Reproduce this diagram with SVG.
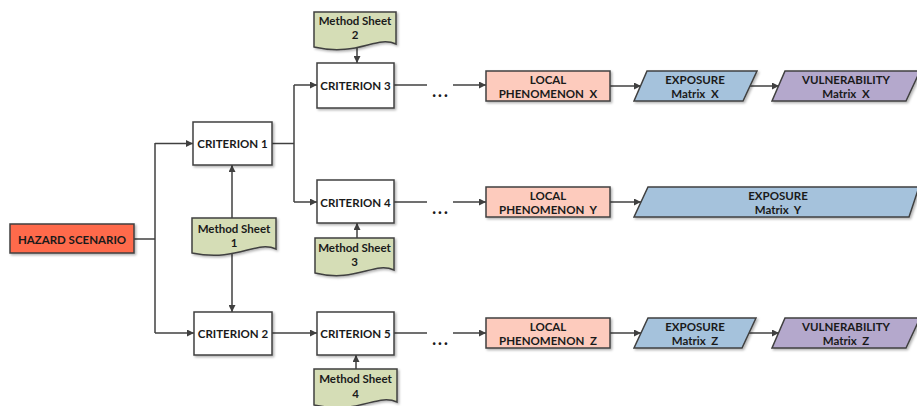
<svg xmlns="http://www.w3.org/2000/svg" width="917" height="406" viewBox="0 0 917 406">
  <defs>
    <filter id="shadow" x="-10%" y="-10%" width="130%" height="140%">
      <feDropShadow dx="1.5" dy="1.5" stdDeviation="1" flood-color="#000" flood-opacity="0.3"/>
    </filter>
    <marker id="arrow" viewBox="0 0 10 10" refX="10" refY="5" markerWidth="7" markerHeight="7" markerUnits="userSpaceOnUse" orient="auto">
      <path d="M0,0 L10,5 L0,10 z" fill="#404040"/>
    </marker>
  </defs>
  <style>
    .box { stroke: #404040; stroke-width: 1.5; filter: url(#shadow); }
    .crit { fill: #ffffff; }
    .hazard { fill: #ff6a4b; }
    .local { fill: #fdcbbd; }
    .expo { fill: #a5c2dc; }
    .vuln { fill: #b4a8cc; }
    .sheet { fill: #d5ddb6; }
    .edge { fill: none; stroke: #404040; stroke-width: 1.5; }
    .arr { marker-end: url(#arrow); }
    text { font-family: Lato, "Liberation Sans", Arial, sans-serif; font-weight: bold; font-size: 11.5px; fill: #1a1a1a; text-anchor: middle; dominant-baseline: central; white-space: pre; }
    .dots { font-size: 16px; font-weight: 900; letter-spacing: 2px; }
  </style>

  <!-- connectors -->
  <g id="connectors">
    <path class="edge" d="M134,239 H155"/>
    <path class="edge" d="M155,143 V333"/>
    <path class="edge arr" d="M155,143.5 H193"/>
    <path class="edge arr" d="M155,333 H194"/>
    <path class="edge arr" d="M232,218 V165"/>
    <path class="edge arr" d="M232,254 V312"/>
    <path class="edge" d="M272,143.5 H294"/>
    <path class="edge" d="M294,85 V202"/>
    <path class="edge arr" d="M294,85 H317"/>
    <path class="edge arr" d="M294,202 H317"/>
    <path class="edge arr" d="M272,333 H317"/>
    <path class="edge arr" d="M357,48 V63"/>
    <path class="edge arr" d="M357,238 V223"/>
    <path class="edge arr" d="M356,369 V355"/>
    <!-- criterion outputs, broken by an ellipsis -->
    <path class="edge" d="M394,85 H427"/>
    <path class="edge arr" d="M453,85 H486"/>
    <path class="edge" d="M394,202 H427"/>
    <path class="edge arr" d="M453,202 H486"/>
    <path class="edge" d="M394,333 H427"/>
    <path class="edge arr" d="M453,333 H486"/>
    <text class="dots" x="441" y="90">...</text>
    <text class="dots" x="441" y="207">...</text>
    <text class="dots" x="441" y="338">...</text>
    <!-- phenomenon to matrices -->
    <path class="edge arr" d="M610,86 H641"/>
    <path class="edge arr" d="M749,86 H779"/>
    <path class="edge arr" d="M610,202 H641"/>
    <path class="edge arr" d="M610,333 H641"/>
    <path class="edge arr" d="M749,333 H779"/>
  </g>

  <g id="hazard-scenario">
    <rect class="box hazard" x="10" y="224" width="124" height="29"/>
    <text x="72" y="239">HAZARD SCENARIO</text>
  </g>

  <g id="criterion-1">
    <rect class="box crit" x="193" y="122" width="79" height="43"/>
    <text x="232.5" y="143.5">CRITERION 1</text>
  </g>
  <g id="criterion-2">
    <rect class="box crit" x="194" y="312" width="78" height="43"/>
    <text x="233" y="333.5">CRITERION 2</text>
  </g>
  <g id="criterion-3">
    <rect class="box crit" x="317" y="63" width="77" height="45"/>
    <text x="355.5" y="85.5">CRITERION 3</text>
  </g>
  <g id="criterion-4">
    <rect class="box crit" x="317" y="180" width="77" height="43"/>
    <text x="355.5" y="202">CRITERION 4</text>
  </g>
  <g id="criterion-5">
    <rect class="box crit" x="317" y="312" width="77" height="43"/>
    <text x="355.5" y="333.5">CRITERION 5</text>
  </g>

  <g id="method-sheet-1">
    <path class="box sheet" d="M192,218 H276 V249 C256,240 238,262 192,253 Z"/>
    <text x="234" y="228">Method Sheet</text>
    <text x="234" y="242">1</text>
  </g>
  <g id="method-sheet-2">
    <path class="box sheet" d="M314,12 H396 V44 C376,35 358,57 314,47 Z"/>
    <text x="355" y="20">Method Sheet</text>
    <text x="355" y="34">2</text>
  </g>
  <g id="method-sheet-3">
    <path class="box sheet" d="M315,238 H394 V270 C374,261 356,283 315,273 Z"/>
    <text x="354.5" y="247">Method Sheet</text>
    <text x="354.5" y="261">3</text>
  </g>
  <g id="method-sheet-4">
    <path class="box sheet" d="M314,369 H397 V402 C377,393 359,415 314,405 Z"/>
    <text x="355.5" y="378">Method Sheet</text>
    <text x="355.5" y="393">4</text>
  </g>

  <g id="local-phenomenon-x">
    <rect class="box local" x="486" y="71" width="124" height="30"/>
    <text x="548" y="79">LOCAL</text>
    <text x="548" y="93">PHENOMENON  X</text>
  </g>
  <g id="local-phenomenon-y">
    <rect class="box local" x="486" y="187" width="124" height="30"/>
    <text x="548" y="195">LOCAL</text>
    <text x="548" y="209">PHENOMENON  Y</text>
  </g>
  <g id="local-phenomenon-z">
    <rect class="box local" x="486" y="318" width="124" height="30"/>
    <text x="548" y="326">LOCAL</text>
    <text x="548" y="340">PHENOMENON  Z</text>
  </g>

  <g id="exposure-x">
    <path class="box expo" d="M647,71 H757 L743,101 H634 Z"/>
    <text x="695" y="79">EXPOSURE</text>
    <text x="695" y="93">Matrix  X</text>
  </g>
  <g id="exposure-y">
    <path class="box expo" d="M648,187 H919 L909,217 H634 Z"/>
    <text x="778" y="195">EXPOSURE</text>
    <text x="778" y="209">Matrix  Y</text>
  </g>
  <g id="exposure-z">
    <path class="box expo" d="M648,318 H756 L742,348 H634 Z"/>
    <text x="695" y="326">EXPOSURE</text>
    <text x="695" y="340">Matrix  Z</text>
  </g>

  <g id="vulnerability-x">
    <path class="box vuln" d="M785,71 H920 L906,101 H772 Z"/>
    <text x="846" y="79">VULNERABILITY</text>
    <text x="846" y="93">Matrix  X</text>
  </g>
  <g id="vulnerability-z">
    <path class="box vuln" d="M785,318 H920 L906,348 H772 Z"/>
    <text x="846" y="326">VULNERABILITY</text>
    <text x="846" y="340">Matrix  Z</text>
  </g>
</svg>
